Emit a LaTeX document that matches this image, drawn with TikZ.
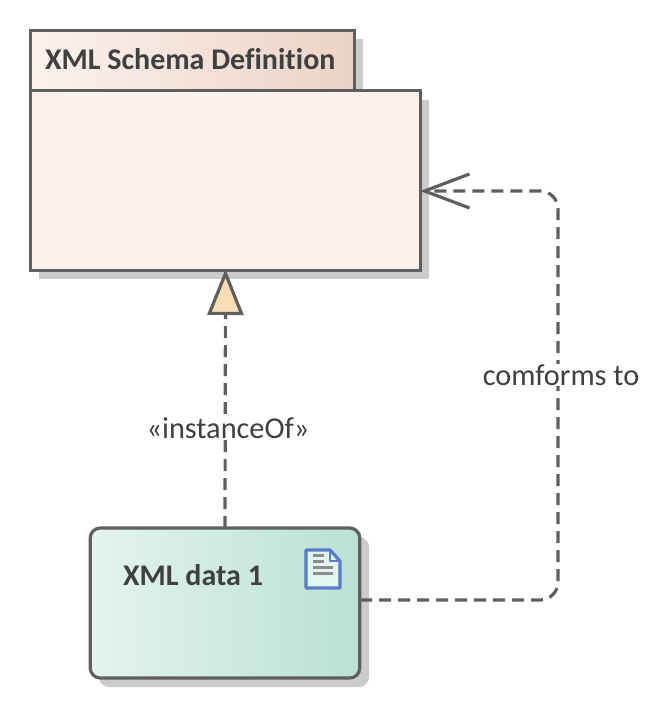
\documentclass[tikz,border=0pt]{standalone}
\usepackage{fontspec}
\setmainfont[Ligatures=NoCommon]{Carlito}
\usetikzlibrary{arrows.meta,calc}

\definecolor{inkline}{HTML}{5F5F5F}
\definecolor{inktext}{HTML}{404040}
\definecolor{shadowgrey}{HTML}{CBCBCB}
\definecolor{pkglight}{HTML}{FBF2EE}
\definecolor{pkgmid}{HTML}{F6ECE6}
\definecolor{pkgdark}{HTML}{ECD2C5}
\definecolor{datalight}{HTML}{E4F3EE}
\definecolor{datamid}{HTML}{DFF1EB}
\definecolor{datadark}{HTML}{B9E1D4}
\definecolor{tipfill}{HTML}{F9DDB5}
\definecolor{iconblue}{HTML}{5B7CC6}
\definecolor{iconfill}{HTML}{E2F6F1}
\definecolor{icongrey}{HTML}{8C8C8C}

\tikzset{
  box/.style={draw=inkline, line width=3.2pt, inner sep=0pt, outer sep=0pt},
  label/.style={text=inktext, font=\fontsize{30.3}{34}\selectfont, inner sep=0pt},
  title/.style={text=inktext, font=\fontsize{30}{34}\selectfont\bfseries, inner sep=0pt},
  dep/.style={draw=inkline, line width=3.2pt, dash pattern=on 12pt off 7pt},
}

\begin{document}
\begin{tikzpicture}[x=1pt,y=-1pt]
  \useasboundingbox (0,0) rectangle (648,708);

  %% shadows
  \fill[shadowgrey] (39,39) rectangle (363,100);
  \fill[shadowgrey] (39,100) rectangle (429,279);
  \fill[shadowgrey, rounded corners=10pt] (99,537) rectangle (369,687);

  %% package
  \node[box, left color=pkglight, middle color=pkgmid, right color=pkgdark,
    minimum width=324.5pt, minimum height=60pt] (tab) at (192.5,60.5) {};
  \node[box, fill=pkglight, minimum width=390.5pt, minimum height=180pt] (pkg) at (225.5,180.5) {};
  \node[title, anchor=base west] (pkgname) at (45,70) {XML Schema Definition};

  %% artifact
  \node[box, rounded corners=10pt, left color=datalight, middle color=datamid, right color=datadark,
    minimum width=269.5pt, minimum height=150pt] (data) at (225,603) {};
  \node[title, anchor=base west] (dataname) at (123,585) {XML data 1};

  %% icon
  \draw[iconblue, line width=3.2pt, fill=iconfill, line join=round]
    (306,550) -- (330,550) -- (340,561) -- (340,588) -- (306,588) -- cycle;
  \draw[iconblue, line width=2pt, line join=round] (330,550) -- (330,561) -- (340,561);
  \draw[icongrey, line width=3pt]
    (313,555) -- (324,555)  (313,561) -- (324,561)
    (313,567) -- (333,567)  (313,573) -- (333,573);

  %% connectors
  \coordinate (dataout) at (360,600);
  \coordinate (pkgin) at (420,191);
  \coordinate (pkgbase) at (225.5,269);

  \draw[dep, -{Triangle[length=46pt, width=36pt, fill=tipfill, line width=3.2pt]}]
    (data.north) -- (pkgbase);
  \draw[dep, rounded corners=18pt, -{Straight Barb[length=45pt, width=34pt, line width=3.2pt]}]
    (dataout) -- (558,600) -- (558,191) -- (pkgin);

  \node[label, fill=white, inner sep=1pt] (instance) at (228,428.5) {«instanceOf»};
  \node[label, fill=white, inner sep=1pt] (comforms) at (561,375) {comforms to};
\end{tikzpicture}
\end{document}
